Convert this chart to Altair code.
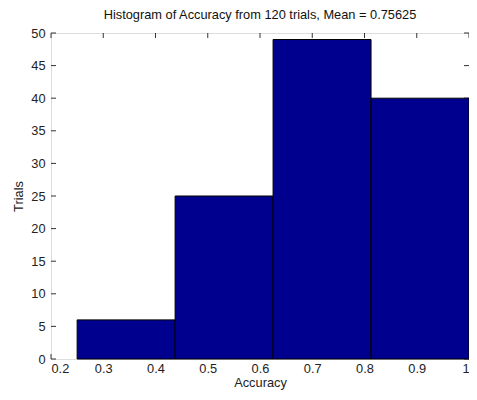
import altair as alt
import pandas as pd

bin_start = [0.25, 0.4375, 0.625, 0.8125]
bin_end = [0.4375, 0.625, 0.8125, 1.0]
counts = [6, 25, 49, 40]
x_ticks = [0.2, 0.3, 0.4, 0.5, 0.6, 0.7, 0.8, 0.9, 1.0]
y_ticks = [0, 5, 10, 15, 20, 25, 30, 35, 40, 45, 50]

W, H = 418, 326
FONT = "Liberation Sans"
FS = 12.8

bars_df = pd.DataFrame({"start": bin_start, "end": bin_end, "count": counts})
xt_df = pd.DataFrame({"v": x_ticks})
yt_df = pd.DataFrame({"v": y_ticks})

xscale = alt.Scale(domain=[0.2, 1.0], nice=False, zero=False)
yscale = alt.Scale(domain=[0, 50], nice=False)

axis_common = dict(ticks=False, domain=False, grid=False, labelFont=FONT,
                   titleFont=FONT, labelFontSize=FS, titleFontSize=FS,
                   labelColor="#222222", titleColor="#222222",
                   titleFontWeight="normal", labelOverlap=False)
xaxis = alt.Axis(values=x_ticks, format="~g", labelPadding=3, titlePadding=2,
                 labelFlush=True, **axis_common)
yaxis = alt.Axis(values=y_ticks, labelPadding=6, titlePadding=5,
                 labelFlush=False, **axis_common)

bars = alt.Chart(bars_df).mark_bar(
    color="#00008F", stroke="black", strokeWidth=1, opacity=1
).encode(
    x=alt.X("start:Q", scale=xscale, title="Accuracy", axis=xaxis),
    x2="end:Q",
    y=alt.Y("count:Q", scale=yscale, title="Trials", axis=yaxis),
    y2=alt.datum(0),
)

tick_style = dict(color="#333333", strokeWidth=1)
xb = alt.Chart(xt_df).mark_rule(**tick_style).encode(
    x=alt.X("v:Q", scale=xscale, title="Accuracy", axis=xaxis),
    y=alt.value(H), y2=alt.value(H - 5))
xt = alt.Chart(xt_df).mark_rule(**tick_style).encode(
    x=alt.X("v:Q", scale=xscale, title="Accuracy", axis=xaxis),
    y=alt.value(0), y2=alt.value(5))
yl = alt.Chart(yt_df).mark_rule(**tick_style).encode(
    y=alt.Y("v:Q", scale=yscale, title="Trials", axis=yaxis),
    x=alt.value(0), x2=alt.value(5))
yr = alt.Chart(yt_df).mark_rule(**tick_style).encode(
    y=alt.Y("v:Q", scale=yscale, title="Trials", axis=yaxis),
    x=alt.value(W), x2=alt.value(W - 5))

chart = alt.layer(xb, xt, yl, yr, bars).properties(
    width=W, height=H,
    title=alt.TitleParams("Histogram of Accuracy from 120 trials, Mean = 0.75625",
                          font=FONT, fontSize=FS, fontWeight="normal",
                          color="#111111", offset=5),
    padding={"left": 43, "top": 25, "right": 0, "bottom": 33},
    autosize="none",
).configure_view(
    stroke="#333333", strokeWidth=1
).configure(background="white")

chart.save("out.html", embed_options={"renderer": "svg", "actions": False})
